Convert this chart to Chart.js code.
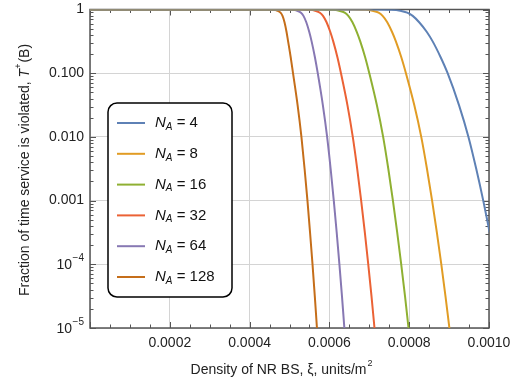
<!DOCTYPE html>
<html>
<head>
<meta charset="utf-8">
<script src="https://cdn.jsdelivr.net/npm/chart.js@4.4.1/dist/chart.umd.min.js"></script>
<style>
  html, body { margin: 0; padding: 0; background: #fff; }
</style>
</head>
<body>
<canvas id="chart" width="528" height="385"></canvas>
<script>
// number of antennas for each curve
const antennas = [4, 8, 16, 32, 64, 128];
const colors = ['#5E81B5', '#E19C24', '#8FB032', '#EB6235', '#8778B3', '#C56E1A'];

// density of NR BS (units/m^2) and fraction of time service is violated
const xi4 = [0, 0.000705, 0.000755, 0.0007775, 0.000795, 0.0008088, 0.000825, 0.0008438, 0.0008588, 0.0008788, 0.0008963, 0.0009248, 0.0009485, 0.000968, 0.0009856, 0.0010017];
const t4 = [1, 1, 0.9886, 0.955, 0.891, 0.794, 0.631, 0.447, 0.316, 0.178, 0.1, 0.0316, 0.01, 0.00316, 0.001, 0.000316];

const xi8 = [0, 0.000652, 0.0006905, 0.0007079, 0.0007233, 0.0007334, 0.000745, 0.0007568, 0.0007666, 0.0007802, 0.0007918, 0.0008127, 0.0008302, 0.0008445, 0.0008574, 0.0008693, 0.0008805, 0.0008909, 0.0009007, 0.0009067];
const t8 = [1, 1, 0.9886, 0.955, 0.891, 0.794, 0.631, 0.447, 0.316, 0.178, 0.1, 0.0316, 0.01, 0.00316, 0.001, 0.000316, 1e-4, 3.16e-5, 1e-5, 5e-6];

const xi16 = [0, 0.000574, 0.0006087, 0.0006244, 0.0006383, 0.0006474, 0.0006578, 0.0006685, 0.0006773, 0.0006896, 0.0007, 0.0007189, 0.0007347, 0.0007476, 0.0007592, 0.0007699, 0.00078, 0.0007895, 0.0007983, 0.0008036];
const t16 = [1, 1, 0.9886, 0.955, 0.891, 0.794, 0.631, 0.447, 0.316, 0.178, 0.1, 0.0316, 0.01, 0.00316, 0.001, 0.000316, 1e-4, 3.16e-5, 1e-5, 5e-6];

const xi32 = [0, 0.0005213, 0.0005509, 0.0005644, 0.0005762, 0.000584, 0.0005929, 0.0006021, 0.0006096, 0.0006201, 0.000629, 0.0006452, 0.0006586, 0.0006697, 0.0006796, 0.0006888, 0.0006974, 0.0007055, 0.000713, 0.0007176];
const t32 = [1, 1, 0.9886, 0.955, 0.891, 0.794, 0.631, 0.447, 0.316, 0.178, 0.1, 0.0316, 0.01, 0.00316, 0.001, 0.000316, 1e-4, 3.16e-5, 1e-5, 5e-6];

const xi64 = [0, 0.0004852, 0.0005087, 0.0005194, 0.0005288, 0.000535, 0.0005421, 0.0005494, 0.0005554, 0.0005637, 0.0005708, 0.0005836, 0.0005943, 0.0006031, 0.000611, 0.0006183, 0.0006251, 0.0006315, 0.0006375, 0.0006412];
const t64 = [1, 1, 0.9886, 0.955, 0.891, 0.794, 0.631, 0.447, 0.316, 0.178, 0.1, 0.0316, 0.01, 0.00316, 0.001, 0.000316, 1e-4, 3.16e-5, 1e-5, 5e-6];

const xi128 = [0, 0.00043, 0.00046, 0.00047, 0.0004775, 0.0004825, 0.0004875, 0.0004925, 0.0004965, 0.000503, 0.0005088, 0.0005203, 0.0005299, 0.0005378, 0.000545, 0.0005515, 0.0005577, 0.0005634, 0.0005688, 0.0005721];
const t128 = [1, 1, 0.9886, 0.955, 0.891, 0.794, 0.631, 0.447, 0.316, 0.178, 0.1, 0.0316, 0.01, 0.00316, 0.001, 0.000316, 1e-4, 3.16e-5, 1e-5, 5e-6];

const xiSeries = [xi4, xi8, xi16, xi32, xi64, xi128];
const tSeries = [t4, t8, t16, t32, t64, t128];

const xTicks = [0, 0.0002, 0.0004, 0.0006, 0.0008, 0.001];
const yTicks = [1e-5, 1e-4, 1e-3, 1e-2, 1e-1, 1];
const yTickLabels = ['', '', '0.001', '0.010', '0.100', '1'];
// the two power-of-ten labels are drawn by the plugin with a real superscript
const yPowerTicks = [1e-5, 1e-4];
const yPowerLabels = ['\u22125', '\u22124'];

const FONT = 'Liberation Sans, Arial, sans-serif';

const datasets = antennas.map((n, i) => ({
  label: 'N_A = ' + n,
  data: xiSeries[i].map((x, j) => ({ x: x, y: tSeries[i][j] })),
  borderColor: colors[i],
  backgroundColor: colors[i],
  borderWidth: 2,
  pointRadius: 0,
  fill: false,
  cubicInterpolationMode: 'monotone'
}));

// frame, inward ticks, axis titles and the boxed legend
const decorations = {
  id: 'decorations',
  beforeDatasetsDraw(chart) {
    const { ctx, chartArea: a } = chart;
    const xs = chart.scales.x, ys = chart.scales.y;
    ctx.save();
    ctx.strokeStyle = '#555';
    ctx.lineWidth = 1;
    ctx.beginPath();
    // x ticks, bottom and top
    for (let k = 0; k <= 20; k++) {
      const v = k * 0.00005;
      const px = Math.round(xs.getPixelForValue(v)) + 0.5;
      const len = k % 4 === 0 ? 6 : 3.5;
      ctx.moveTo(px, a.bottom); ctx.lineTo(px, a.bottom - len);
      ctx.moveTo(px, a.top); ctx.lineTo(px, a.top + len);
    }
    // y ticks, left and right
    for (let e = -5; e <= 0; e++) {
      for (let m = 1; m <= 9; m++) {
        const v = m * Math.pow(10, e);
        if (v > 1) break;
        const py = Math.round(ys.getPixelForValue(v)) + 0.5;
        const len = m === 1 ? 6 : 3.5;
        ctx.moveTo(a.left, py); ctx.lineTo(a.left + len, py);
        ctx.moveTo(a.right, py); ctx.lineTo(a.right - len, py);
      }
    }
    ctx.stroke();
    ctx.lineWidth = 1.5;
    ctx.strokeRect(a.left, a.top, a.right - a.left, a.bottom - a.top);
    ctx.restore();
  },
  afterDraw(chart) {
    const { ctx, chartArea: area } = chart;
    const ys = chart.scales.y;
    ctx.save();
    ctx.fillStyle = '#222';
    ctx.textBaseline = 'middle';

    // 10^-4 and 10^-5 tick labels
    yPowerTicks.forEach((v, i) => {
      const py = ys.getPixelForValue(v);
      ctx.font = '10px ' + FONT;
      const we = ctx.measureText(yPowerLabels[i]).width;
      ctx.textAlign = 'right';
      ctx.fillText(yPowerLabels[i], area.left - 6, py - 6);
      ctx.font = '14px ' + FONT;
      ctx.fillText('10', area.left - 6 - we - 0.5, py + 1);
    });
    ctx.textAlign = 'left';

    // x title
    const xt1 = 'Density of NR BS, \u03BE, units/m';
    ctx.font = '14px ' + FONT;
    const w1 = ctx.measureText(xt1).width;
    ctx.font = '9px ' + FONT;
    const w2 = ctx.measureText('2').width;
    let x0 = 281 - (w1 + w2) / 2;
    ctx.font = '14px ' + FONT;
    ctx.fillText(xt1, x0, 370);
    ctx.font = '9px ' + FONT;
    ctx.fillText('2', x0 + w1 + 1, 364);

    // y title (rotated)
    ctx.translate(25, 170);
    ctx.rotate(-Math.PI / 2);
    const p1 = 'Fraction of time service is violated, ';
    ctx.font = '14px ' + FONT;
    const a1 = ctx.measureText(p1).width;
    ctx.font = 'italic 14px ' + FONT;
    const a2 = ctx.measureText('T').width;
    ctx.font = '9px ' + FONT;
    const a3 = ctx.measureText('+').width;
    ctx.font = '14px ' + FONT;
    const a4 = ctx.measureText('(B)').width;
    let sx = -(a1 + a2 + a3 + a4 + 1) / 2;
    ctx.fillText(p1, sx, 0); sx += a1;
    ctx.font = 'italic 14px ' + FONT;
    ctx.fillText('T', sx, 0); sx += a2;
    ctx.font = '9px ' + FONT;
    ctx.fillText('+', sx, -6); sx += a3 + 1;
    ctx.font = '14px ' + FONT;
    ctx.fillText('(B)', sx, 0);
    ctx.setTransform(1, 0, 0, 1, 0, 0);

    // legend box
    const bx = 108, by = 103, bw = 124, bh = 194;
    ctx.fillStyle = '#fff';
    ctx.strokeStyle = '#000';
    ctx.lineWidth = 1.5;
    ctx.beginPath();
    ctx.roundRect(bx, by, bw, bh, 9);
    ctx.fill();
    ctx.stroke();
    chart.data.datasets.forEach((ds, i) => {
      const y = 123 + i * 30.8;
      ctx.strokeStyle = ds.borderColor;
      ctx.lineWidth = 2;
      ctx.beginPath();
      ctx.moveTo(117, y); ctx.lineTo(145, y);
      ctx.stroke();
      ctx.fillStyle = '#111';
      let tx = 155;
      ctx.font = 'italic 15px ' + FONT;
      ctx.fillText('N', tx, y); tx += ctx.measureText('N').width;
      ctx.font = 'italic 10px ' + FONT;
      ctx.fillText('A', tx, y + 4); tx += ctx.measureText('A').width;
      ctx.font = '15px ' + FONT;
      ctx.fillText(' = ' + antennas[i], tx, y);
    });
    ctx.restore();
  }
};

new Chart(document.getElementById('chart'), {
  type: 'line',
  data: { datasets: datasets },
  options: {
    responsive: false,
    animation: false,
    devicePixelRatio: 1,
    layout: { padding: { top: 9.5, right: 39, left: 0, bottom: 0 } },
    plugins: { legend: { display: false }, tooltip: { enabled: false } },
    scales: {
      x: {
        type: 'linear',
        min: 0,
        max: 0.001,
        afterFit(s) { s.height = 57; s.paddingLeft = 0; s.paddingRight = 0; },
        afterBuildTicks(s) { s.ticks = xTicks.map(v => ({ value: v })); },
        grid: { color: '#d4d4d4', lineWidth: 1, drawTicks: false },
        border: { display: false },
        ticks: {
          padding: 7,
          color: '#222',
          font: { family: FONT, size: 14 },
          maxRotation: 0,
          callback: v => v === 0 ? '' : v.toFixed(4)
        }
      },
      y: {
        type: 'logarithmic',
        min: 1e-5,
        max: 1,
        afterFit(s) { s.width = 90; s.paddingTop = 0; s.paddingBottom = 0; },
        afterBuildTicks(s) { s.ticks = yTicks.map(v => ({ value: v })); },
        grid: { color: '#d4d4d4', lineWidth: 1, drawTicks: false },
        border: { display: false },
        ticks: {
          padding: 6,
          color: '#222',
          font: { family: FONT, size: 14 },
          callback: (v) => yTickLabels[yTicks.indexOf(v)] ?? ''
        }
      }
    }
  },
  plugins: [decorations]
});
</script>
</body>
</html>
